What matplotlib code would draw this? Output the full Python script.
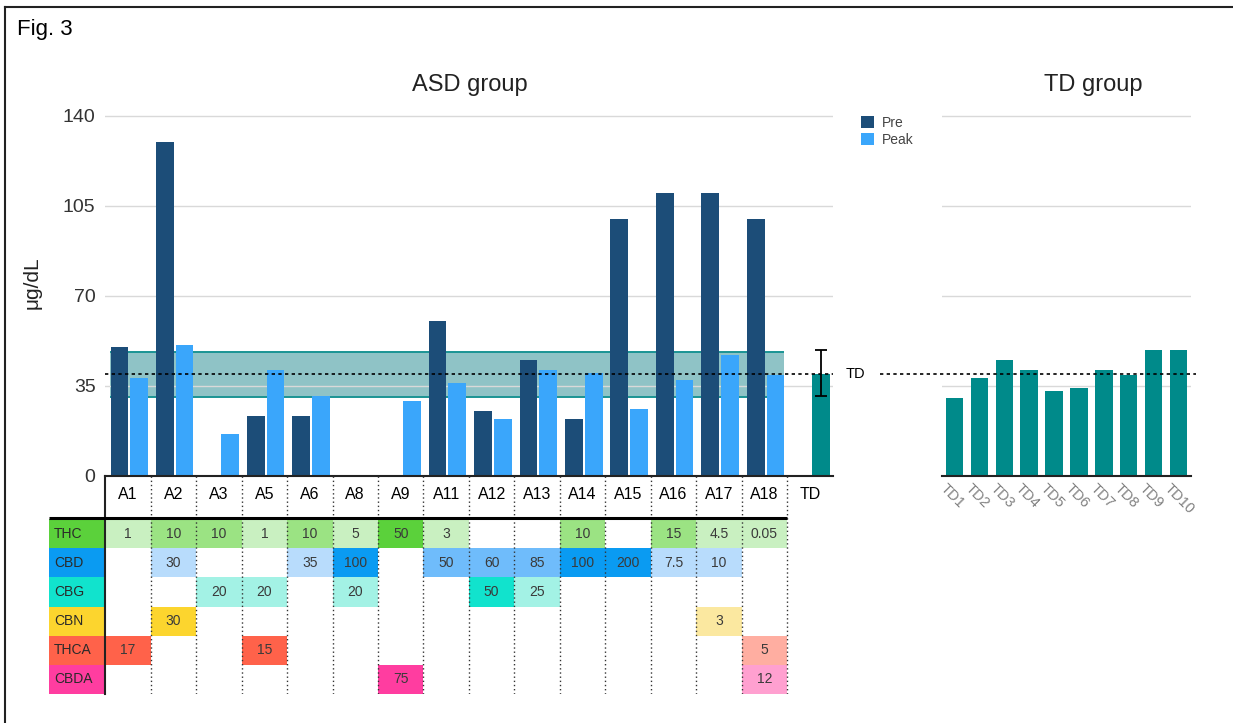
import numpy as np
import matplotlib
matplotlib.use("Agg")
import matplotlib.pyplot as plt
from matplotlib.patches import Rectangle, Patch
from matplotlib.lines import Line2D
import matplotlib.transforms as mtransforms

plt.rcParams['font.family'] = ['Liberation Sans', 'DejaVu Sans']

# ---------------- data ----------------
asd_ids = ["A1", "A2", "A3", "A5", "A6", "A8", "A9", "A11", "A12", "A13",
           "A14", "A15", "A16", "A17", "A18"]
pre_values = [50, 130, np.nan, 23, 23, np.nan, np.nan, 60, 25, 45, 22, 100, 110, 110, 100]
peak_values = [38, 51, 16, 41, 31, np.nan, 29, 36, 22, 41, 40, 26, 37, 47, 39]

td_ids = ["TD1", "TD2", "TD3", "TD4", "TD5", "TD6", "TD7", "TD8", "TD9", "TD10"]
td_values = [30, 38, 45, 41, 33, 34, 41, 39, 49, 49]
td_mean = 39.5
td_err_low, td_err_high = 31, 49
td_band_low, td_band_high = 30.5, 48

y_ticks = [0, 35, 70, 105, 140]

compounds = ["THC", "CBD", "CBG", "CBN", "THCA", "CBDA"]
thc = [1, 10, 10, 1, 10, 5, 50, 3, None, None, 10, None, 15, 4.5, 0.05]
cbd = [None, 30, None, None, 35, 100, None, 50, 60, 85, 100, 200, 7.5, 10, None]
cbg = [None, None, 20, 20, None, 20, None, None, 50, 25, None, None, None, None, None]
cbn = [None, 30, None, None, None, None, None, None, None, None, None, None, None, 3, None]
thca = [17, None, None, 15, None, None, None, None, None, None, None, None, None, None, 5]
cbda = [None, None, None, None, None, None, 75, None, None, None, None, None, None, None, 12]
doses = [thc, cbd, cbg, cbn, thca, cbda]

# ---------------- styles ----------------
PRE = "#1c4d78"
PEAK = "#3aa6fb"
TEAL = "#008a8a"
BAND = "#8fc3c6"
BAND_EDGE = "#1a9494"
GRID = "#d9d9d9"
TXT = "#2a2a2a"

# colour shades (light, medium, full) and thresholds (medium_at, full_at)
shades = {
    "THC":  ("#c9f0c1", "#9be383", "#5bd13b"),
    "CBD":  ("#b8dcfc", "#6fbcfb", "#0a9bf2"),
    "CBG":  ("#a3f2e5", "#a3f2e5", "#11e3cd"),
    "CBN":  ("#fbe8a0", "#fbe8a0", "#fcd52e"),
    "THCA": ("#ffaea1", "#ffaea1", "#ff624a"),
    "CBDA": ("#ffa0d0", "#ffa0d0", "#ff3da0"),
}
levels = {"THC": (10, 50), "CBD": (50, 100), "CBG": (50, 50),
          "CBN": (30, 30), "THCA": (15, 15), "CBDA": (50, 50)}


def cell_color(name, v):
    light, med, full = shades[name]
    m, f = levels[name]
    if v >= f:
        return full
    if v >= m:
        return med
    return light


W, H = 1233, 723
fig = plt.figure(figsize=(W / 100, H / 100), dpi=100)

px_per_unit = (475.5 - 116) / 140
y_top = 145
ax_bottom = 1 - 475.5 / H
ax_height = y_top * px_per_unit / H

# ---------------- ASD panel ----------------
ax = fig.add_axes([105.3 / W, ax_bottom, (832.5 - 105.3) / W, ax_height])
n = len(asd_ids)
x = np.arange(n)
ax.set_xlim(-0.5, n + 0.5)
ax.set_ylim(0, y_top)
ax.set_axisbelow('line')

ax.add_patch(Rectangle((-0.4, td_band_low), 14.83, td_band_high - td_band_low,
                       facecolor=BAND, edgecolor="none", zorder=1))
ax.hlines([td_band_low, td_band_high], -0.4, 14.43, colors=BAND_EDGE, lw=1.4, zorder=1.6)

ax.bar(x - 0.19, pre_values, width=0.39, color=PRE, zorder=2, label="Pre")
ax.bar(x + 0.245, peak_values, width=0.39, color=PEAK, zorder=2, label="Peak")
ax.bar([n + 0.245], [td_mean], width=0.38, color=TEAL, zorder=2)
ax.errorbar([n + 0.245], [td_mean], yerr=[[td_mean - td_err_low], [td_err_high - td_mean]],
            fmt="none", ecolor="black", elinewidth=1.3, capsize=4, capthick=1.3, zorder=4)
ax.axhline(td_mean, color="black", ls=(0, (2, 2)), lw=1.2, zorder=3)
ax.text(1.0186, td_mean, "TD", transform=mtransforms.blended_transform_factory(ax.transAxes, ax.transData),
        ha="left", va="center", fontsize=10.5, color="black")

ax.set_yticks(y_ticks)
ax.set_yticklabels([str(t) for t in y_ticks], fontsize=14, color="#333333")
ax.tick_params(axis="y", length=0, pad=7)
ax.set_xticks(list(x) + [n])
ax.set_xticklabels(asd_ids + ["TD"], fontsize=11.5, color="black")
ax.tick_params(axis="x", length=0, pad=8)
ax.yaxis.grid(True, color=GRID, lw=1)
for s in ("left", "right", "top"):
    ax.spines[s].set_visible(False)
ax.spines["bottom"].set_color("#222222")
ax.spines["bottom"].set_linewidth(1.5)
ax.spines["bottom"].set_zorder(5)
ax.set_ylabel("μg/dL", fontsize=15, color="#222222")
ax.yaxis.set_label_coords((41.5 - 105.3) / (832.5 - 105.3), (475.5 - 283) / (y_top * px_per_unit))

# ---------------- TD panel ----------------
ax2 = fig.add_axes([942 / W, ax_bottom, 249 / W, ax_height])
ax2.set_xlim(-0.5, len(td_ids) - 0.5)
ax2.set_ylim(0, y_top)
ax2.set_axisbelow(True)
ax2.bar(np.arange(len(td_ids)), td_values, width=0.7, color=TEAL, zorder=2)
ax2.set_yticks(y_ticks)
ax2.set_yticklabels([])
ax2.tick_params(axis="y", length=0)
ax2.yaxis.grid(True, color=GRID, lw=1)
ax2.set_xticks(np.arange(len(td_ids)))
ax2.set_xticklabels(td_ids, rotation=-45, ha="left", va="top", rotation_mode="anchor",
                    fontsize=10.5, color="#808080")
ax2.tick_params(axis="x", length=0, pad=4)
shift = mtransforms.ScaledTranslation(-5 / 72, 0, fig.dpi_scale_trans)
for lab in ax2.get_xticklabels():
    lab.set_transform(lab.get_transform() + shift)
for s in ("left", "right", "top"):
    ax2.spines[s].set_visible(False)
ax2.spines["bottom"].set_color("#222222")
ax2.spines["bottom"].set_linewidth(1.5)
ax2.plot([(880 - 942) / 249, (1196 - 942) / 249], [td_mean, td_mean],
         transform=mtransforms.blended_transform_factory(ax2.transAxes, ax2.transData),
         color="black", ls=(0, (2, 2)), lw=1.2, clip_on=False, zorder=3)

# ---------------- legend ----------------
fig.legend(handles=[Patch(facecolor=PRE, label="Pre"), Patch(facecolor=PEAK, label="Peak")],
           loc="upper left", bbox_to_anchor=(861 / W, 1 - 116 / H), frameon=False,
           fontsize=10, handlelength=0.95, handleheight=0.95, handletextpad=0.55,
           labelspacing=0.2, borderpad=0, borderaxespad=0, labelcolor="#444444")

# ---------------- dosing table ----------------
slot_px = (832.5 - 105.3) / (n + 1)
label_w = (105.3 - 49) / slot_px
tab = fig.add_axes([105.3 / W, 1 - 694 / H, (832.5 - 105.3) / W, 218 / H])
tab.set_xlim(-0.5, n + 0.5)
tab.set_ylim(218, 0)
tab.axis("off")

row_top, row_h = 43.2, 29.13
left_edge = -0.5 - label_w
for r, (name, vals) in enumerate(zip(compounds, doses)):
    top = row_top + r * row_h
    tab.add_patch(Rectangle((left_edge, top), label_w, row_h, facecolor=shades[name][2],
                            edgecolor="none", clip_on=False))
    tab.text(left_edge + 5 / slot_px, top + row_h / 2, name, ha="left", va="center",
             fontsize=10, color=TXT, clip_on=False)
    for j, v in enumerate(vals):
        if v is None:
            continue
        tab.add_patch(Rectangle((j - 0.5, top), 1, row_h, facecolor=cell_color(name, v),
                                edgecolor="none"))
        tab.text(j, top + row_h / 2, f"{v:g}", ha="center", va="center", fontsize=10,
                 color="#3a3a3a")

for b in range(n):
    tab.plot([b + 0.5, b + 0.5], [0, 218], color="#333333", ls=(0, (1, 2)), lw=1.0)
tab.plot([-0.5, -0.5], [0, 218], color="#222222", lw=1.5, clip_on=False)
tab.plot([left_edge, n - 0.5], [41.5, 41.5], color="black", lw=2.2, clip_on=False,
         solid_capstyle="butt")

# ---------------- titles and frame ----------------
fig.text(17 / W, 1 - 30 / H, "Fig. 3", ha="left", va="center", fontsize=16, color="black")
fig.text(470 / W, 1 - 85 / H, "ASD group", ha="center", va="center", fontsize=17, color="#222222")
fig.text(1093 / W, 1 - 85 / H, "TD group", ha="center", va="center", fontsize=17, color="#222222")
fig.add_artist(Line2D([5 / W, 1], [1 - 7 / H, 1 - 7 / H], color="#222222", lw=1.5))
fig.add_artist(Line2D([5 / W, 5 / W], [0, 1 - 7 / H], color="#222222", lw=1.5))

fig.savefig("out.png", dpi=100)
